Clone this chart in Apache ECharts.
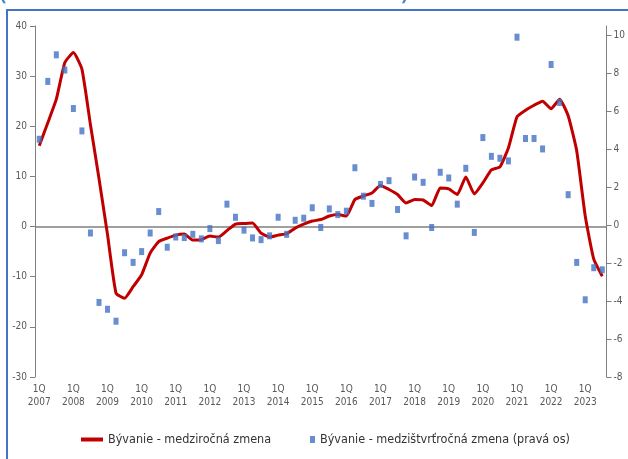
<!DOCTYPE html>
<html>
<head>
<meta charset="utf-8">
<script src="https://cdn.jsdelivr.net/npm/echarts@6/dist/echarts.min.js"></script>
<style>
html,body{margin:0;padding:0;background:#fff;}
#c{width:628px;height:459px;}
</style>
</head>
<body>
<div id="c"></div>
<script>
var years = ['2007','2008','2009','2010','2011','2012','2013','2014','2015','2016','2017','2018','2019','2020','2021','2022','2023'];
var quarters = ['1Q','2Q','3Q','4Q'];
var nQuarters = 67;

var yoyName = 'Bývanie - medziročná zmena';
var qoqName = 'Bývanie - medzištvrťročná zmena (pravá os)';

var yoy = [16.1, 20.7, 25.4, 32.7, 34.7, 31.4, 20.3, 9.6, -1.6, -13.3, -14.3, -12.0, -9.6, -5.3, -3.0, -2.3,
  -1.7, -1.5, -2.7, -2.6, -1.9, -2.1, -0.8, 0.5, 0.6, 0.7, -1.3, -2.1, -1.7, -1.4, -0.3, 0.5,
  1.1, 1.4, 2.1, 2.4, 2.1, 5.4, 6.1, 6.7, 8.2, 7.4, 6.4, 4.7, 5.4, 5.3, 4.2, 7.7,
  7.5, 6.4, 9.9, 6.5, 8.7, 11.3, 11.9, 15.7, 21.9, 23.2, 24.2, 25.0, 23.5, 25.4, 22.1, 15.1,
  2.1, -6.5, -9.9];

var qoq = [4.53, 7.58, 8.98, 8.18, 6.15, 4.97, -0.41, -4.07, -4.43, -5.06, -1.45, -1.96, -1.39, -0.41, 0.72, -1.16,
  -0.62, -0.65, -0.48, -0.72, -0.18, -0.81, 1.11, 0.42, -0.26, -0.67, -0.76, -0.56, 0.42, -0.48, 0.26, 0.37,
  0.92, -0.12, 0.86, 0.56, 0.74, 3.03, 1.53, 1.15, 2.15, 2.35, 0.83, -0.56, 2.54, 2.26, -0.12, 2.79,
  2.49, 1.11, 3.0, -0.38, 4.62, 3.63, 3.53, 3.39, 9.91, 4.57, 4.57, 4.02, 8.47, 6.47, 1.61, -1.96,
  -3.93, -2.24, -2.35];

var categories = [];
for (var y = 0; y < years.length; y++) {
  for (var q = 0; q < 4; q++) {
    if (categories.length < nQuarters) categories.push(quarters[q] + ' ' + years[y]);
  }
}

var font = '"Liberation Sans Narrow", "DejaVu Sans Condensed", "Liberation Sans", sans-serif';
var chart = echarts.init(document.getElementById('c'), null, {renderer: 'canvas'});
chart.setOption({
  backgroundColor: '#ffffff',
  animation: false,
  graphic: [
    {type: 'rect', shape: {x: 7, y: 10, width: 700, height: 600}, style: {fill: 'none', stroke: '#4472C4', lineWidth: 2}, silent: true},
    {type: 'text', x: 0, y: 4, style: {text: '(medziročná a medzištvrťročná zmena v %)', fill: '#3d85c6', font: 'bold 19px "Open Sans", sans-serif', textVerticalAlign: 'bottom'}, silent: true}
  ],
  grid: {left: 35, right: 20, top: 26, bottom: 82, containLabel: false},
  legend: [
    {data: [{name: yoyName, icon: 'rect'}], left: 76, top: 428, itemWidth: 22, itemHeight: 4, itemGap: 0,
     textStyle: {color: '#333333', fontSize: 12.5, fontFamily: font}},
    {data: [{name: qoqName, icon: 'rect'}], left: 305, top: 428, itemWidth: 5, itemHeight: 7, itemGap: 0,
     textStyle: {color: '#333333', fontSize: 12.5, fontFamily: font}}
  ],
  xAxis: {
    type: 'category',
    data: categories,
    boundaryGap: true,
    axisLine: {show: false},
    axisTick: {show: false},
    axisLabel: {
      interval: 3, margin: 6, color: '#595959', fontSize: 10, lineHeight: 13, fontFamily: font,
      formatter: function (v) { return v.replace(' ', '\n'); }
    },
    splitLine: {show: false}
  },
  yAxis: [
    {type: 'value', min: -30, max: 40, interval: 10, position: 'left',
     axisLine: {show: true, lineStyle: {color: '#7f7f7f', width: 1}},
     axisTick: {show: true, length: 5, lineStyle: {color: '#7f7f7f'}},
     axisLabel: {color: '#595959', fontSize: 10, margin: 8, fontFamily: font},
     splitLine: {show: false}},
    {type: 'value', min: -8, max: 10.5, interval: 2, position: 'right',
     axisLine: {show: true, lineStyle: {color: '#7f7f7f', width: 1}},
     axisTick: {show: true, length: 5, lineStyle: {color: '#7f7f7f'}},
     axisLabel: {color: '#595959', fontSize: 10, margin: 7, fontFamily: font, showMaxLabel: false},
     splitLine: {show: false}}
  ],
  series: [
    {name: yoyName, type: 'line', yAxisIndex: 0, data: yoy, smooth: 0.15, showSymbol: false, symbol: 'none',
     lineStyle: {color: '#C00000', width: 3}, itemStyle: {color: '#C00000'}, z: 3,
     markLine: {silent: true, symbol: 'none', label: {show: false}, lineStyle: {color: '#7f7f7f', type: 'solid', width: 1.5},
       data: [{yAxis: 0}], z: 1}},
    {name: qoqName, type: 'scatter', yAxisIndex: 1, data: qoq, symbol: 'rect', symbolSize: [5, 7],
     itemStyle: {color: '#4472C4'}, z: 4}
  ]
});
</script>
</body>
</html>
